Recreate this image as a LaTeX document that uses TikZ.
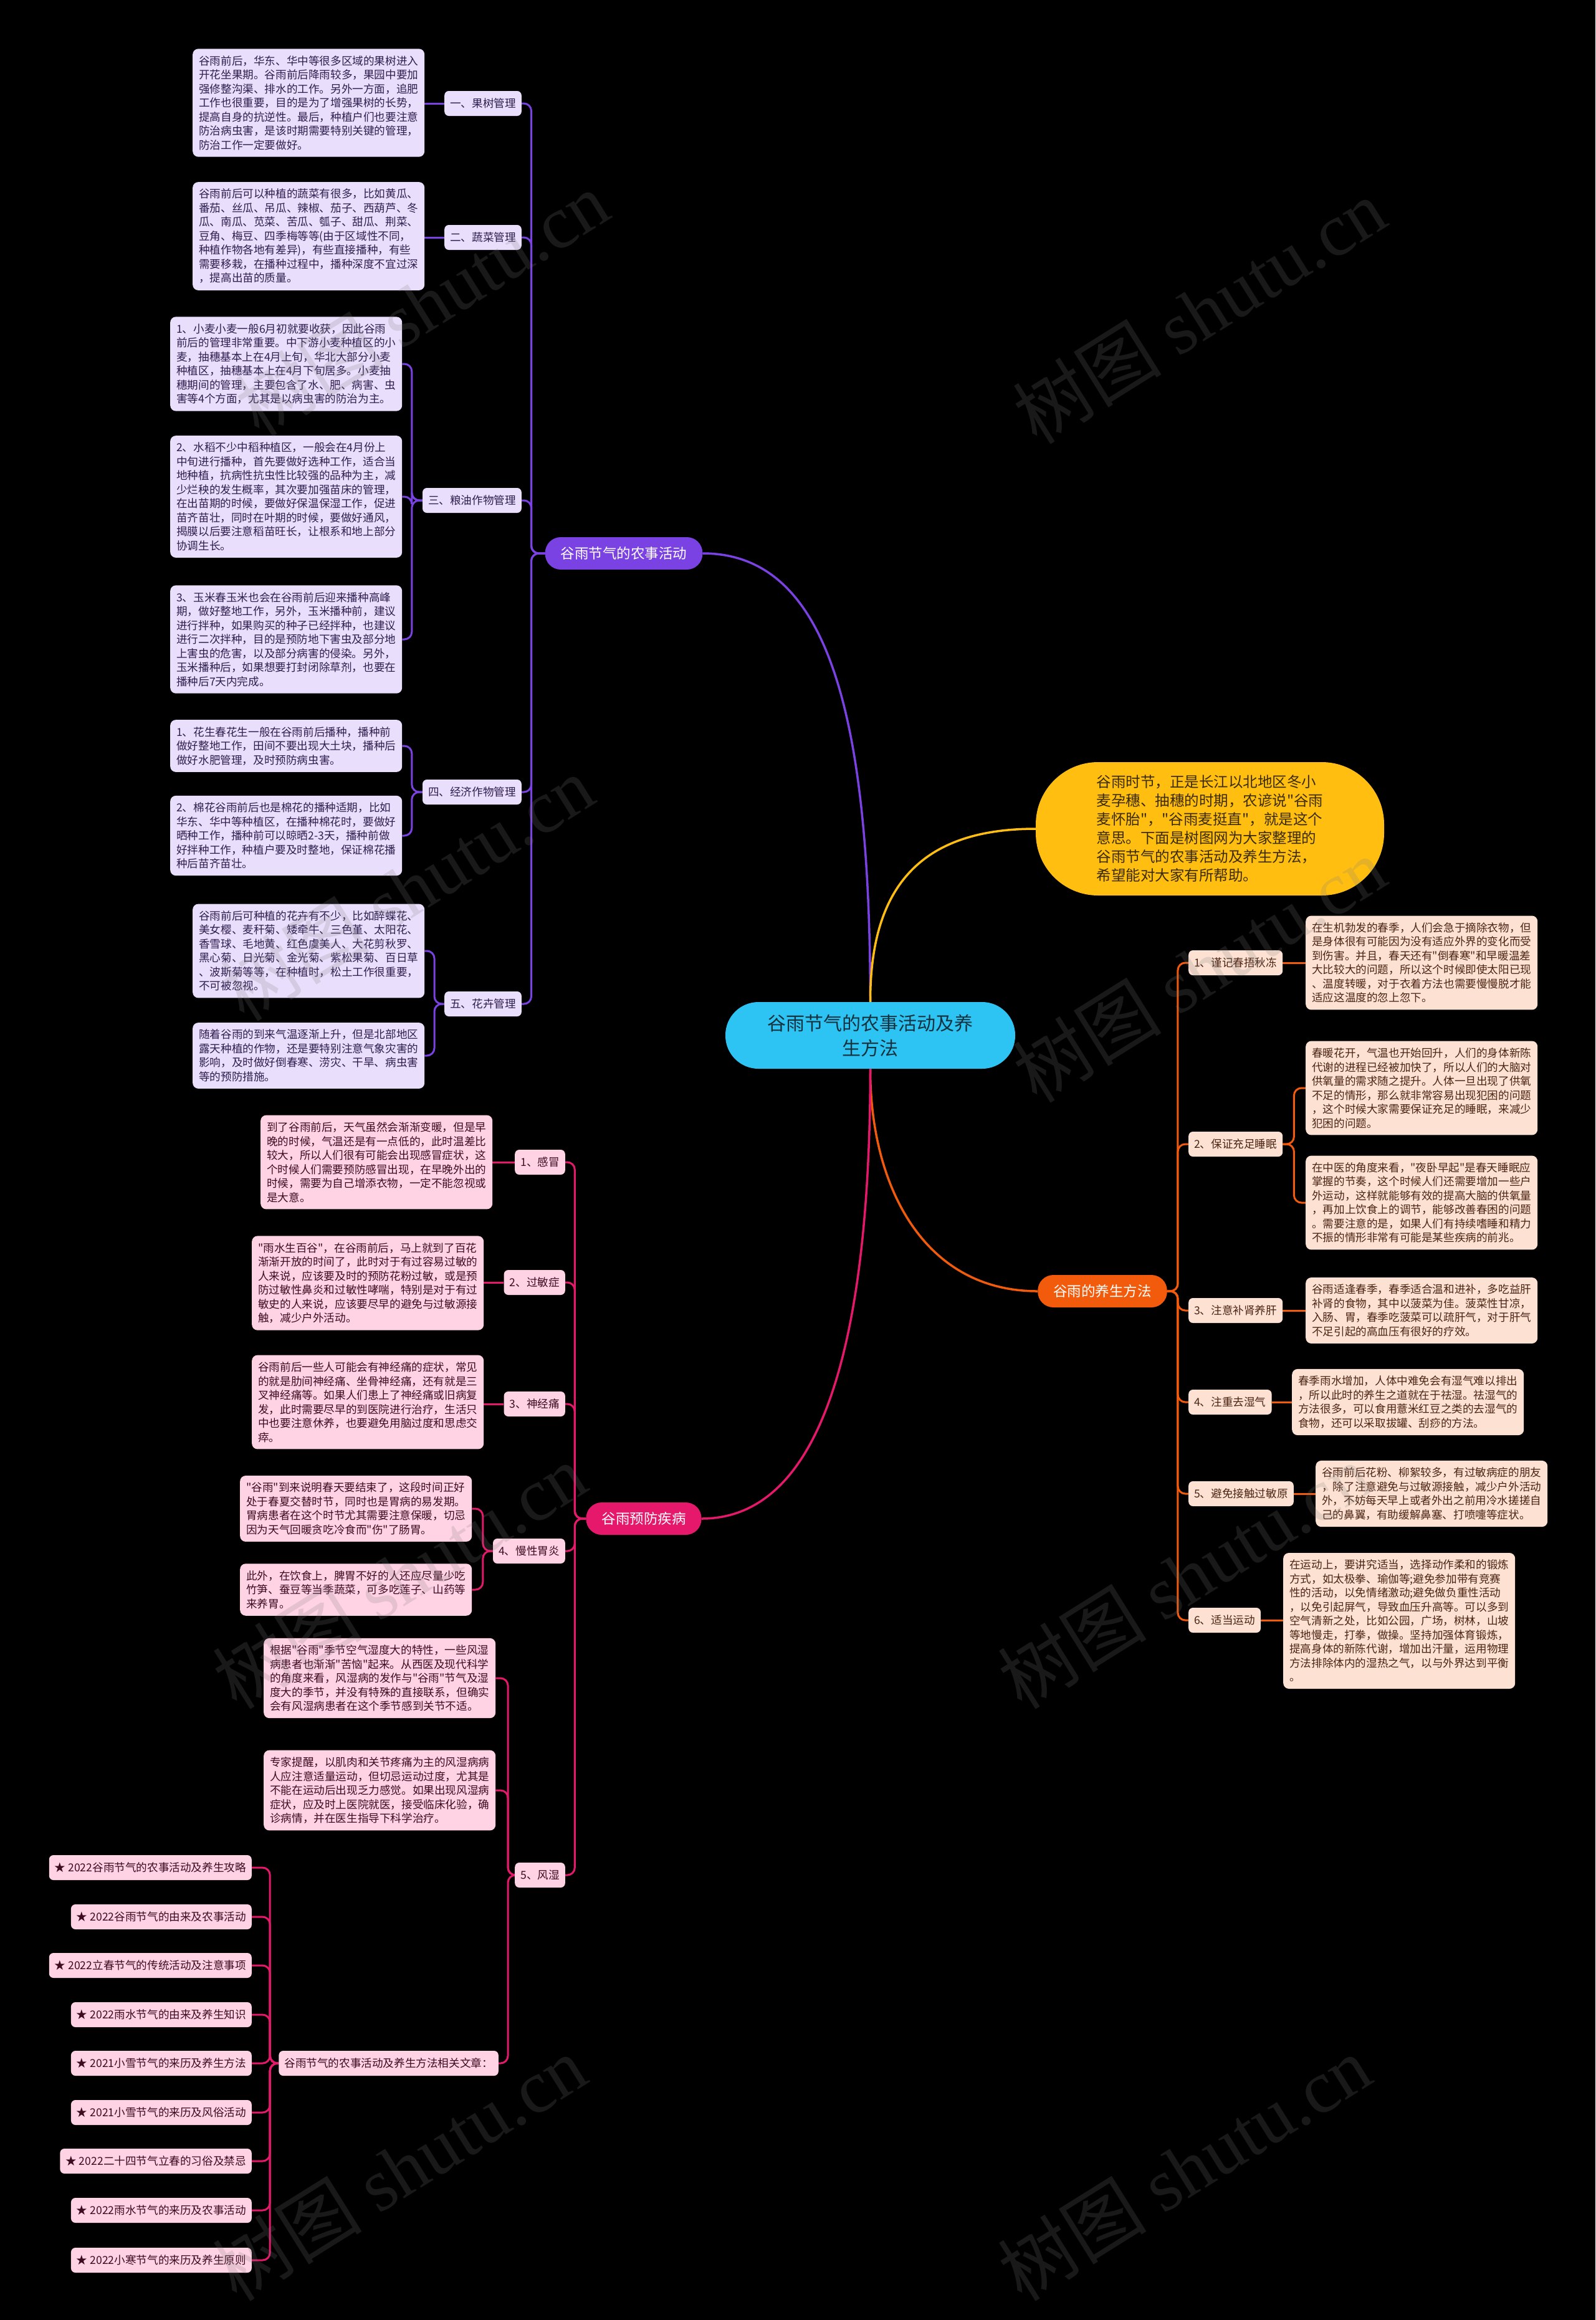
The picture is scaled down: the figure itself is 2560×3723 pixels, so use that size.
\documentclass[tikz,border=0pt]{standalone}
\usepackage{fontspec}
\newfontfamily\cjk{Noto Sans CJK SC}
\newfontfamily\wmlat{Liberation Serif}
\pgfdeclarelayer{back}
\pgfdeclarelayer{lines}
\pgfsetlayers{back,lines,main}
\definecolor{purp}{HTML}{7B42E3}
\definecolor{purpl}{HTML}{E9DEFB}
\definecolor{purpt}{HTML}{2E1F4F}
\definecolor{yel}{HTML}{FFBE10}
\definecolor{yelt}{HTML}{3B2C05}
\definecolor{cyanc}{HTML}{2DC3F3}
\definecolor{cyant}{HTML}{17323F}
\definecolor{ora}{HTML}{F35B0C}
\definecolor{oral}{HTML}{FDE2D3}
\definecolor{orat}{HTML}{4B2413}
\definecolor{pnk}{HTML}{E6186B}
\definecolor{pnkl}{HTML}{FFD2E4}
\definecolor{pnkt}{HTML}{3D0B20}
\begin{document}
\begin{tikzpicture}[x=1pt,y=-1pt,
  body/.style={rounded corners=9pt, inner xsep=10pt, inner ysep=11pt, text width=352pt, align=left, font=\cjk\fontsize{17.6pt}{22.5pt}\selectfont},
  lab/.style={rounded corners=7pt, inner xsep=9pt, inner ysep=0pt, minimum height=40pt, font=\cjk\fontsize{17.6pt}{22pt}\selectfont},
  pbox/.style={body, fill=purpl, text=purpt},
  obox/.style={body, fill=oral, text=orat},
  kbox/.style={body, fill=pnkl, text=pnkt},
  plab/.style={lab, fill=purpl, text=purpt},
  olab/.style={lab, fill=oral, text=orat},
  klab/.style={lab, fill=pnkl, text=pnkt},
  branch/.style={text=white, rounded corners=25pt, minimum height=52pt, inner xsep=25pt, font=\cjk\fontsize{22.5pt}{26pt}\selectfont},
  centernode/.style={fill=cyanc, text=cyant, rounded corners=53pt, minimum width=465pt, minimum height=107pt, align=center, font=\cjk\fontsize{30pt}{40pt}\selectfont},
  bubble/.style={fill=yel, text=yelt, rounded corners=100pt, minimum width=559pt, minimum height=214pt, align=left, font=\cjk\fontsize{23.5pt}{30pt}\selectfont},
  pline/.style={draw=purp, line width=3pt, rounded corners=12pt},
  oline/.style={draw=ora, line width=3pt, rounded corners=12pt},
  kline/.style={draw=pnk, line width=3pt, rounded corners=12pt},
  wm/.style={rotate=32, text=white!50!black, opacity=0.2, font=\cjk\fontsize{120pt}{120pt}\selectfont}
]
\begin{pgfonlayer}{back}
\fill[black] (0,0) rectangle (2560,3723);
\end{pgfonlayer}
\useasboundingbox (0,0) rectangle (2560,3723);

% central and main branches
\node[centernode] (C) at (1396.5,1661.5) {谷雨节气的农事活动及养\\生方法};
\node[bubble] (Y) at (1941.5,1330) {谷雨时节，正是长江以北地区冬小\\麦孕穗、抽穗的时期，农谚说"谷雨\\麦怀胎"，"谷雨麦挺直"，就是这个\\意思。下面是树图网为大家整理的\\谷雨节气的农事活动及养生方法，\\希望能对大家有所帮助。};
\node[branch, fill=purp] (P) at (1001,888) {谷雨节气的农事活动};
\node[branch, fill=ora] (O) at (1769,2072) {谷雨的养生方法};
\node[branch, fill=pnk] (K) at (1033,2437) {谷雨预防疾病};

% purple labels
\node[plab, anchor=east] (L1) at (837,166) {一、果树管理};
\node[plab, anchor=east] (L2) at (837,381) {二、蔬菜管理};
\node[plab, anchor=east] (L3) at (837,803) {三、粮油作物管理};
\node[plab, anchor=east] (L4) at (837,1271) {四、经济作物管理};
\node[plab, anchor=east] (L5) at (837,1611) {五、花卉管理};

% purple boxes
\node[pbox, anchor=west] (F1) at (309,165) {谷雨前后，华东、华中等很多区域的果树进入\\开花坐果期。谷雨前后降雨较多，果园中要加\\强修整沟渠、排水的工作。另外一方面，追肥\\工作也很重要，目的是为了增强果树的长势，\\提高自身的抗逆性。最后，种植户们也要注意\\防治病虫害，是该时期需要特别关键的管理，\\防治工作一定要做好。};
\node[pbox, anchor=west] (V1) at (309,379) {谷雨前后可以种植的蔬菜有很多，比如黄瓜、\\番茄、丝瓜、吊瓜、辣椒、茄子、西葫芦、冬\\瓜、南瓜、苋菜、苦瓜、瓠子、甜瓜、荆菜、\\豆角、梅豆、四季梅等等(由于区域性不同，\\种植作物各地有差异)，有些直接播种，有些\\需要移栽，在播种过程中，播种深度不宜过深\\，提高出苗的质量。};
\node[pbox, anchor=west] (G1) at (273,584) {1、小麦小麦一般6月初就要收获，因此谷雨\\前后的管理非常重要。中下游小麦种植区的小\\麦，抽穗基本上在4月上旬，华北大部分小麦\\种植区，抽穗基本上在4月下旬居多。小麦抽\\穗期间的管理，主要包含了水、肥、病害、虫\\害等4个方面，尤其是以病虫害的防治为主。};
\node[pbox, anchor=west] (G2) at (273,797) {2、水稻不少中稻种植区，一般会在4月份上\\中旬进行播种，首先要做好选种工作，适合当\\地种植，抗病性抗虫性比较强的品种为主，减\\少烂秧的发生概率，其次要加强苗床的管理，\\在出苗期的时候，要做好保温保湿工作，促进\\苗齐苗壮，同时在叶期的时候，要做好通风，\\揭膜以后要注意稻苗旺长，让根系和地上部分\\协调生长。};
\node[pbox, anchor=west] (G3) at (273,1026) {3、玉米春玉米也会在谷雨前后迎来播种高峰\\期，做好整地工作，另外，玉米播种前，建议\\进行拌种，如果购买的种子已经拌种，也建议\\进行二次拌种，目的是预防地下害虫及部分地\\上害虫的危害，以及部分病害的侵染。另外，\\玉米播种后，如果想要打封闭除草剂，也要在\\播种后7天内完成。};
\node[pbox, anchor=west] (E1) at (273,1197) {1、花生春花生一般在谷雨前后播种，播种前\\做好整地工作，田间不要出现大土块，播种后\\做好水肥管理，及时预防病虫害。};
\node[pbox, anchor=west] (E2) at (273,1341) {2、棉花谷雨前后也是棉花的播种适期，比如\\华东、华中等种植区，在播种棉花时，要做好\\晒种工作，播种前可以晾晒2-3天，播种前做\\好拌种工作，种植户要及时整地，保证棉花播\\种后苗齐苗壮。};
\node[pbox, anchor=west] (H1) at (309,1526) {谷雨前后可种植的花卉有不少，比如醉蝶花、\\美女樱、麦秆菊、矮牵牛、三色堇、太阳花、\\香雪球、毛地黄、红色虞美人、大花剪秋罗、\\黑心菊、日光菊、金光菊、紫松果菊、百日草\\、波斯菊等等，在种植时，松土工作很重要，\\不可被忽视。};
\node[pbox, anchor=west] (H2) at (309,1694) {随着谷雨的到来气温逐渐上升，但是北部地区\\露天种植的作物，还是要特别注意气象灾害的\\影响，及时做好倒春寒、涝灾、干旱、病虫害\\等的预防措施。};

% orange labels
\node[olab, anchor=west] (OL1) at (1907,1545) {1、谨记春捂秋冻};
\node[olab, anchor=west] (OL2) at (1907,1836) {2、保证充足睡眠};
\node[olab, anchor=west] (OL3) at (1907,2103) {3、注意补肾养肝};
\node[olab, anchor=west] (OL4) at (1907,2250) {4、注重去湿气};
\node[olab, anchor=west] (OL5) at (1907,2397) {5、避免接触过敏原};
\node[olab, anchor=west] (OL6) at (1907,2600) {6、适当运动};

% orange boxes
\node[obox, anchor=west] (OB1) at (2095,1545) {在生机勃发的春季，人们会急于摘除衣物，但\\是身体很有可能因为没有适应外界的变化而受\\到伤害。并且，春天还有"倒春寒"和早暖温差\\大比较大的问题，所以这个时候即使太阳已现\\、温度转暖，对于衣着方法也需要慢慢脱才能\\适应这温度的忽上忽下。};
\node[obox, anchor=west] (OB2a) at (2095,1746) {春暖花开，气温也开始回升，人们的身体新陈\\代谢的进程已经被加快了，所以人们的大脑对\\供氧量的需求随之提升。人体一旦出现了供氧\\不足的情形，那么就非常容易出现犯困的问题\\，这个时候大家需要保证充足的睡眠，来减少\\犯困的问题。};
\node[obox, anchor=west] (OB2b) at (2095,1930) {在中医的角度来看，"夜卧早起"是春天睡眠应\\掌握的节奏，这个时候人们还需要增加一些户\\外运动，这样就能够有效的提高大脑的供氧量\\，再加上饮食上的调节，能够改善春困的问题\\。需要注意的是，如果人们有持续嗜睡和精力\\不振的情形非常有可能是某些疾病的前兆。};
\node[obox, anchor=west] (OB3) at (2095,2103) {谷雨适逢春季，春季适合温和进补，多吃益肝\\补肾的食物，其中以菠菜为佳。菠菜性甘凉，\\入肠、胃，春季吃菠菜可以疏肝气，对于肝气\\不足引起的高血压有很好的疗效。};
\node[obox, anchor=west] (OB4) at (2073,2250) {春季雨水增加，人体中难免会有湿气难以排出\\，所以此时的养生之道就在于祛湿。祛湿气的\\方法很多，可以食用薏米红豆之类的去湿气的\\食物，还可以采取拔罐、刮痧的方法。};
\node[obox, anchor=west] (OB5) at (2111,2397) {谷雨前后花粉、柳絮较多，有过敏病症的朋友\\，除了注意避免与过敏源接触，减少户外活动\\外，不妨每天早上或者外出之前用冷水搓搓自\\己的鼻翼，有助缓解鼻塞、打喷嚏等症状。};
\node[obox, anchor=west] (OB6) at (2059,2601) {在运动上，要讲究适当，选择动作柔和的锻炼\\方式，如太极拳、瑜伽等;避免参加带有竞赛\\性的活动，以免情绪激动;避免做负重性活动\\，以免引起屏气，导致血压升高等。可以多到\\空气清新之处，比如公园，广场，树林，山坡\\等地慢走，打拳，做操。坚持加强体育锻炼，\\提高身体的新陈代谢，增加出汗量，运用物理\\方法排除体内的湿热之气，以与外界达到平衡\\。};

% pink labels
\node[klab, anchor=east] (KL1) at (907,1865) {1、感冒};
\node[klab, anchor=east] (KL2) at (907,2058) {2、过敏症};
\node[klab, anchor=east] (KL3) at (907,2253) {3、神经痛};
\node[klab, anchor=east] (KL4) at (907,2489) {4、慢性胃炎};
\node[klab, anchor=east] (KL5) at (907,3009) {5、风湿};

% pink boxes
\node[kbox, anchor=west] (KB1) at (418,1865) {到了谷雨前后，天气虽然会渐渐变暖，但是早\\晚的时候，气温还是有一点低的，此时温差比\\较大，所以人们很有可能会出现感冒症状，这\\个时候人们需要预防感冒出现，在早晚外出的\\时候，需要为自己增添衣物，一定不能忽视或\\是大意。};
\node[kbox, anchor=west] (KB2) at (404,2059) {"雨水生百谷"，在谷雨前后，马上就到了百花\\渐渐开放的时间了，此时对于有过容易过敏的\\人来说，应该要及时的预防花粉过敏，或是预\\防过敏性鼻炎和过敏性哮喘，特别是对于有过\\敏史的人来说，应该要尽早的避免与过敏源接\\触，减少户外活动。};
\node[kbox, anchor=west] (KB3) at (404,2250) {谷雨前后一些人可能会有神经痛的症状，常见\\的就是肋间神经痛、坐骨神经痛，还有就是三\\叉神经痛等。如果人们患上了神经痛或旧病复\\发，此时需要尽早的到医院进行治疗，生活只\\中也要注意休养，也要避免用脑过度和思虑交\\瘁。};
\node[kbox, anchor=west] (KB4a) at (385,2421) {"谷雨"到来说明春天要结束了，这段时间正好\\处于春夏交替时节，同时也是胃病的易发期。\\胃病患者在这个时节尤其需要注意保暖，切忌\\因为天气回暖贪吃冷食而"伤"了肠胃。};
\node[kbox, anchor=west] (KB4b) at (385,2551) {此外，在饮食上，脾胃不好的人还应尽量少吃\\竹笋、蚕豆等当季蔬菜，可多吃莲子、山药等\\来养胃。};
\node[kbox, anchor=west] (KB5a) at (423,2693) {根据"谷雨"季节空气湿度大的特性，一些风湿\\病患者也渐渐"苦恼"起来。从西医及现代科学\\的角度来看，风湿病的发作与"谷雨"节气及湿\\度大的季节，并没有特殊的直接联系，但确实\\会有风湿病患者在这个季节感到关节不适。};
\node[kbox, anchor=west] (KB5b) at (423,2873) {专家提醒，以肌肉和关节疼痛为主的风湿病病\\人应注意适量运动，但切忌运动过度，尤其是\\不能在运动后出现乏力感觉。如果出现风湿病\\症状，应及时上医院就医，接受临床化验，确\\诊病情，并在医生指导下科学治疗。};
\node[klab, anchor=east] (R) at (800,3311) {谷雨节气的农事活动及养生方法相关文章：};

% related articles
\node[klab, anchor=east] (A1) at (404,2997) {★ 2022谷雨节气的农事活动及养生攻略};
\node[klab, anchor=east] (A2) at (404,3076) {★ 2022谷雨节气的由来及农事活动};
\node[klab, anchor=east] (A3) at (404,3154) {★ 2022立春节气的传统活动及注意事项};
\node[klab, anchor=east] (A4) at (404,3233) {★ 2022雨水节气的由来及养生知识};
\node[klab, anchor=east] (A5) at (404,3311) {★ 2021小雪节气的来历及养生方法};
\node[klab, anchor=east] (A6) at (404,3390) {★ 2021小雪节气的来历及风俗活动};
\node[klab, anchor=east] (A7) at (404,3468) {★ 2022二十四节气立春的习俗及禁忌};
\node[klab, anchor=east] (A8) at (404,3547) {★ 2022雨水节气的来历及农事活动};
\node[klab, anchor=east] (A9) at (404,3627) {★ 2022小寒节气的来历及养生原则};

\begin{pgfonlayer}{lines}
% main curves
\draw[purp, line width=3.5pt] (C.north) .. controls (1396,1150) and (1330,888) .. (P.east);
\draw[yel, line width=3.5pt] (C.north) .. controls (1396,1420) and (1480,1330) .. (Y.west);
\draw[ora, line width=3.5pt] (C.south) .. controls (1396,1900) and (1480,2072) .. (O.west);
\draw[pnk, line width=3.5pt] (C.south) .. controls (1396,2150) and (1320,2437) .. (K.east);
% purple
\foreach \n in {L1,L2,L3,L4,L5} \draw[pline] (P.west) -- ++(-22,0) |- (\n.east);
\draw[pline] (L1.west) -- (L1.west -| F1.east);
\draw[pline] (L2.west) -- (L2.west -| V1.east);
\foreach \n in {G1,G2,G3} \draw[pline] (L3.west) -- ++(-17,0) |- (\n.east);
\foreach \n in {E1,E2} \draw[pline] (L4.west) -- ++(-17,0) |- (\n.east);
\foreach \n in {H1,H2} \draw[pline] (L5.west) -- ++(-16,0) |- (\n.east);
% orange
\foreach \n in {OL1,OL2,OL3,OL4,OL5,OL6} \draw[oline] (O.east) -- ++(17,0) |- (\n.west);
\draw[oline] (OL1.east) -- (OL1.east -| OB1.west);
\foreach \n in {OB2a,OB2b} \draw[oline] (OL2.east) -- ++(18,0) |- (\n.west);
\draw[oline] (OL3.east) -- (OL3.east -| OB3.west);
\draw[oline] (OL4.east) -- (OL4.east -| OB4.west);
\draw[oline] (OL5.east) -- (OL5.east -| OB5.west);
\draw[oline] (OL6.east) -- (OL6.east -| OB6.west);
% pink
\foreach \n in {KL1,KL2,KL3,KL4,KL5} \draw[kline] (K.west) -- ++(-18,0) |- (\n.east);
\draw[kline] (KL1.west) -- (KL1.west -| KB1.east);
\draw[kline] (KL2.west) -- (KL2.west -| KB2.east);
\draw[kline] (KL3.west) -- (KL3.west -| KB3.east);
\foreach \n in {KB4a,KB4b} \draw[kline] (KL4.west) -- ++(-16,0) |- (\n.east);
\foreach \n in {KB5a,KB5b,R} \draw[kline] (KL5.west) -- ++(-11,0) |- (\n.east);
\foreach \n in {A1,A2,A3,A4,A5,A6,A7,A8,A9} \draw[kline] (R.west) -- ++(-14,0) |- (\n.east);
\end{pgfonlayer}

% watermarks
\foreach \wx/\wy in {677/487, 1924/499, 653/1425, 1924/1556, 641/2529, 1900/2529, 641/3479, 1900/3479}
  \node[wm] at (\wx,\wy) {树图 {\wmlat shutu.cn}};
\end{tikzpicture}
\end{document}
